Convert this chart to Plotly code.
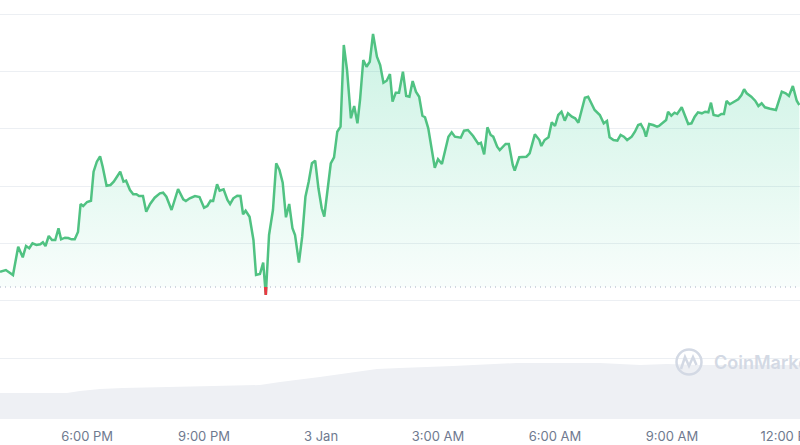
import datetime as dt
import plotly.graph_objects as go

# ---------------- data ----------------
START = dt.datetime(2025, 1, 2, 15, 46)
WINDOW_MIN = 1231

elapsed_min = [
    0, 9, 20, 28, 35, 40, 45, 50, 56, 62, 66, 70, 75, 80, 85, 90, 94, 100, 105, 110,
    115, 120, 124, 128, 134, 140, 144, 149, 154, 158, 164, 170, 175, 185, 190, 194, 200, 205, 210, 214,
    220, 225, 231, 238, 246, 251, 256, 264, 274, 282, 286, 292, 300, 307, 314, 319, 324, 328, 334, 338,
    344, 350, 354, 359, 365, 370, 374, 378, 384, 390, 394, 400, 405, 409,
    414, 420, 425, 430, 435, 440, 445, 450, 454, 460, 465, 470, 475, 480, 485, 490, 495, 499, 504, 509,
    514, 519, 524, 529, 534, 540, 545, 550, 554, 559, 564, 569, 574, 580, 585, 590, 595, 600, 604, 609,
    614, 620, 625, 630, 635, 640, 645, 650, 654, 659, 669, 674, 680, 690, 695, 700, 709, 714, 720, 728,
    736, 740, 745, 750, 755, 759, 765, 769, 778, 783, 789, 792, 799, 805, 810, 815, 823, 830,
    833, 838, 844, 849, 854, 859, 864, 869, 874, 880, 885, 890, 895, 900, 905, 910, 915, 923, 929, 934,
    938, 944, 950, 955, 960, 965, 972, 977, 982, 986, 991, 994, 999, 1005, 1011, 1014, 1020, 1025, 1028, 1033,
    1038, 1042, 1049, 1054, 1059, 1064, 1069, 1074, 1080, 1085, 1090, 1094, 1098, 1105, 1110, 1114, 1118, 1123, 1131, 1136,
    1141, 1145, 1149, 1156, 1162, 1167, 1172, 1177, 1185, 1194, 1203, 1209, 1214, 1220, 1226, 1230,
]

price = [
    86.3, 88, 83, 111.3, 100.7, 112, 109.7, 114.7, 113, 113.7, 115.7, 112, 122, 118, 118, 129.7, 118.7, 120.3, 120, 118.7,
    118.7, 126, 154, 152, 156, 157.3, 186.3, 196.3, 201.7, 191.3, 172.3, 173, 176.3, 186.3, 176.3, 177.3, 168, 163.7, 163.7, 162,
    162, 146.3, 154, 160.3, 164.7, 165.3, 161.3, 148, 169, 158.7, 157, 159.7, 162, 161, 150.3, 152, 157.3, 157, 173.7, 167.3,
    168.7, 158, 154, 159.7, 162.3, 162, 143.7, 147.3, 141.3, 118, 83, 84, 95.3, 63,
    123, 148, 194.7, 188, 175.3, 140.7, 154, 129.7, 123, 95.3, 121.3, 161.3, 176.3, 194.7, 197.3, 169.7, 149.7, 141.3, 168, 194.7,
    200.7, 226.3, 231.3, 313, 288, 239.7, 252, 234.7, 258, 298, 291.3, 296.3, 324, 301.3, 293, 275.3, 277.3, 284, 256.3, 265.3,
    265.3, 286.3, 262, 261.3, 277, 266.3, 261.3, 242.3, 240.7, 229.7, 190.3, 198.7, 194, 221.3, 225.7, 221.3, 220.3, 227.3, 228, 222,
    214, 215.3, 203.7, 230.7, 223, 221.3, 211.3, 208, 214, 214, 193, 187.3, 200.7, 201.3, 201.3, 204.7, 223.7, 218,
    212, 218, 220.7, 235.7, 232, 243, 246.3, 237.3, 244.7, 241.3, 239.7, 235.3, 248, 260.3, 261.3, 254.7, 248, 243, 234.7, 237,
    220.7, 218, 217.3, 223, 221.3, 218, 221.3, 226.3, 233, 234, 228, 221.3, 234, 233, 231.3, 232, 235.3, 238, 246.3, 242.3,
    245.3, 244, 250.7, 243, 234, 234.7, 241.3, 245.7, 244.7, 246.3, 245.7, 255.3, 243, 242, 244, 244, 257, 253.7, 257.3, 258.7,
    263, 268.7, 264.7, 261.3, 257.3, 252, 254.7, 250.7, 249.3, 248, 266.3, 264.7, 262, 272, 257.3, 253,
]

open_price = 71  # reference (24h-ago) price, dotted line

vol_elapsed_min = [0, 103, 123, 154, 189, 242, 328, 400, 431, 492, 543, 580, 615, 666, 697, 795, 826, 923, 985, 1026, 1077, 1231]
volume = [26, 26, 28, 30, 31, 32, 33, 34, 37, 42, 47, 50, 51, 52, 53, 56, 56, 56, 54, 55, 54, 54]

tick_times = ["2025-01-02 18:00", "2025-01-02 21:00", "2025-01-03 00:00", "2025-01-03 03:00",
              "2025-01-03 06:00", "2025-01-03 09:00", "2025-01-03 12:00"]
tick_labels = ["6:00 PM", "9:00 PM", "3 Jan", "3:00 AM", "6:00 AM", "9:00 AM", "12:00 PM"]

assert len(elapsed_min) == len(price)
assert len(vol_elapsed_min) == len(volume)

# ---------------- helpers ----------------
def ts(m):
    return None if m is None else START + dt.timedelta(minutes=m)

# split into above (green fill) / below (red line) parts
g_t, g_p, r_t, r_p = [], [], [], []
for i, (m, v) in enumerate(zip(elapsed_min, price)):
    if i > 0:
        a = price[i - 1] - open_price
        b = v - open_price
        if a * b < 0:
            mc = elapsed_min[i - 1] + (m - elapsed_min[i - 1]) * a / (a - b)
            g_t.append(mc); g_p.append(open_price)
            r_t.append(mc); r_p.append(open_price)
            if b > 0:
                r_t.append(None); r_p.append(None)
    g_t.append(m); g_p.append(max(v, open_price))
    if v < open_price:
        r_t.append(m); r_p.append(v)

x_all = [ts(m) for m in elapsed_min]
x_end = ts(WINDOW_MIN)

GREEN = "#50c282"
RED = "#ea3943"

fig = go.Figure()

# volume
fig.add_trace(go.Scatter(
    x=[ts(m) for m in vol_elapsed_min], y=volume, yaxis="y2",
    mode="lines", line=dict(width=0, color="#eef0f4"),
    fill="tozeroy", fillcolor="#eef0f4", hoverinfo="skip", showlegend=False))

# invisible base for fill
fig.add_trace(go.Scatter(
    x=[START, x_end], y=[open_price, open_price], mode="lines",
    line=dict(width=0), hoverinfo="skip", showlegend=False))

# gradient fill above open price
fig.add_trace(go.Scatter(
    x=[ts(m) for m in g_t], y=g_p, mode="lines", line=dict(width=0),
    fill="tonexty",
    fillgradient=dict(type="vertical", start=open_price, stop=max(price),
                      colorscale=[[0, "rgba(22,199,132,0.03)"], [1, "rgba(22,199,132,0.22)"]]),
    hoverinfo="skip", showlegend=False))

# dotted open line
fig.add_trace(go.Scatter(
    x=[START, x_end], y=[open_price, open_price], mode="lines",
    line=dict(width=1, color="#a6b0c3", dash="1px,4px"),
    hoverinfo="skip", showlegend=False))

# price line
fig.add_trace(go.Scatter(
    x=x_all, y=price, mode="lines", line=dict(width=2.5, color=GREEN),
    hoverinfo="skip", showlegend=False))

# below-open part in red
fig.add_trace(go.Scatter(
    x=[ts(m) for m in r_t], y=r_p, mode="lines", line=dict(width=2.5, color=RED),
    connectgaps=False, hoverinfo="skip", showlegend=False))

# ---------------- watermark ----------------
W, H = 800, 419
def px(x, y):
    return x / W, 1 - y / H

WM = "#d3d9e4"
cx, cy, r = 689, 362, 12.5
x0, y0 = px(cx - r, cy + r)
x1, y1 = px(cx + r, cy - r)
shapes = [dict(type="circle", xref="paper", yref="paper", x0=x0, y0=y0, x1=x1, y1=y1,
               line=dict(color=WM, width=2.5), layer="above")]
pts = [(681, 369), (685, 357), (689, 366), (693, 357), (696.5, 365)]
path = "M " + " L ".join(f"{px(a, b)[0]},{px(a, b)[1]}" for a, b in pts)
shapes.append(dict(type="path", xref="paper", yref="paper", path=path,
                   line=dict(color=WM, width=2.5), layer="above"))

fig.update_layout(
    width=800, height=445,
    margin=dict(l=0, r=0, t=0, b=26),
    paper_bgcolor="white", plot_bgcolor="white",
    font=dict(family="Inter, Roboto, sans-serif", color="#6f7a8f", size=13),
    hovermode=False,
    shapes=shapes,
    annotations=[dict(text="CoinMarketCap", xref="paper", yref="paper",
                      x=712 / W, y=1 - 362 / H, xanchor="left", yanchor="middle",
                      showarrow=False,
                      font=dict(family="Inter, sans-serif", size=18, color=WM, weight=600))],
    xaxis=dict(type="date", range=[START, x_end], showgrid=False, zeroline=False,
               showline=False, ticks="", tickmode="array", tickvals=tick_times,
               ticktext=tick_labels, automargin=False, ticklabelstandoff=8,
               ticklabeloverflow="allow",
               tickfont=dict(size=13, color="#6f7a8f")),
    yaxis=dict(range=[-61, 358], showticklabels=False, showgrid=True, gridcolor="#eceff3",
               gridwidth=1, tick0=0, dtick=57.33, zeroline=False, automargin=False),
    yaxis2=dict(range=[0, 419], overlaying="y", visible=False, showgrid=False),
)

fig.write_html("out.html", config={"displayModeBar": False},
               post_script="document.body.style.margin='0';document.body.style.overflow='hidden';")
